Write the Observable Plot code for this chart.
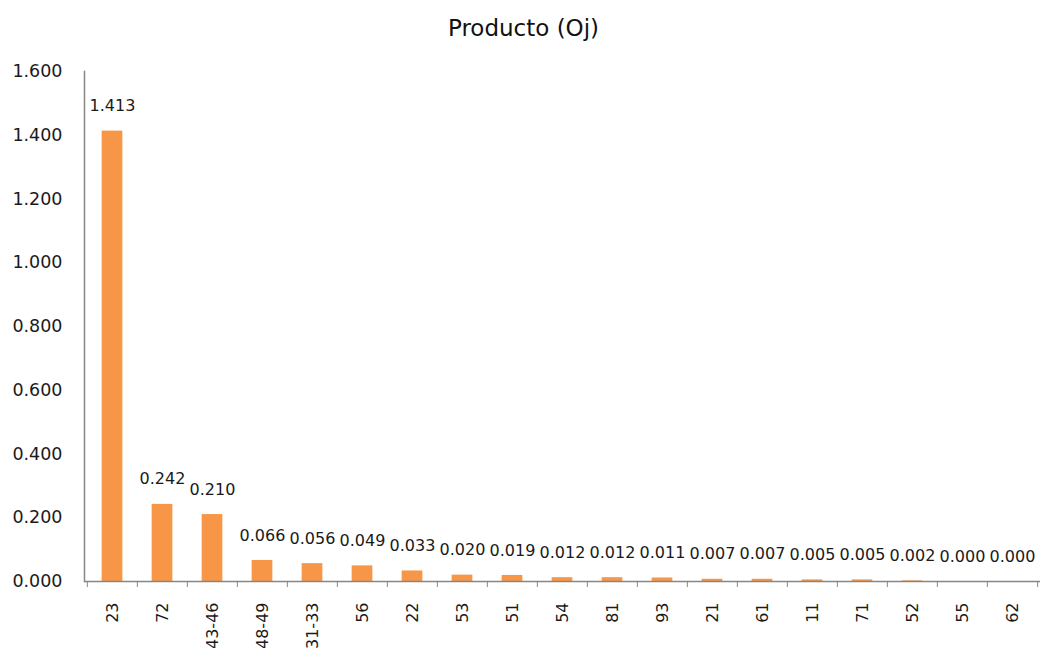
<!DOCTYPE html>
<html>
<head>
<meta charset="utf-8">
<script src="https://cdn.jsdelivr.net/npm/d3@7"></script>
<script src="https://cdn.jsdelivr.net/npm/@observablehq/plot@0.6"></script>
<style>
  html, body { margin: 0; padding: 0; background: #fff; }
  #title { height: 50px; width: 1043px; text-align: center; font-family: "DejaVu Sans", Verdana, sans-serif; font-size: 23px; line-height: 56px; color: #111; padding-left: 4px; box-sizing: border-box; }
</style>
</head>
<body>
<div id="title">Producto (Oj)</div>
<div id="chart"></div>
<script>
const categories = ["23","72","43-46","48-49","31-33","56","22","53","51","54","81","93","21","61","11","71","52","55","62"];
const values = [1.413,0.242,0.210,0.066,0.056,0.049,0.033,0.020,0.019,0.012,0.012,0.011,0.007,0.007,0.005,0.005,0.002,0.000,0.000];
const yTicks = [0,0.2,0.4,0.6,0.8,1.0,1.2,1.4,1.6];

const data = categories.map((c, i) => ({cat: c, value: values[i]}));

const W = 1043, H = 598, ML = 84, MR = 3, MT = 21, MB = 67;
const band = (W - ML - MR) / categories.length;
const halfBand = band / 2;
const barInset = (band - 21) / 2;
const fmt = d3.format(".3f");
const axisColor = "#868686";
const textColor = "#1a1a1a";

const chart = Plot.plot({
  width: W,
  height: H,
  marginLeft: ML,
  marginRight: MR,
  marginTop: MT,
  marginBottom: MB,
  style: {fontFamily: "'DejaVu Sans', Verdana, sans-serif", color: textColor, background: "#fff"},
  x: {domain: categories, padding: 0, label: null},
  y: {domain: [0, 1.6], label: null},
  marks: [
    Plot.barY(data, {x: "cat", y: "value", fill: "#F79646", insetLeft: barInset, insetRight: barInset}),
    Plot.text(data, {x: "cat", y: "value", text: d => fmt(d.value), dy: -25, fontSize: 16, fill: textColor}),
    Plot.axisY({ticks: yTicks, tickFormat: fmt, tickSize: 0, tickPadding: 22, fontSize: 17.5, fill: textColor, label: null}),
    Plot.axisX({tickSize: 0, tickPadding: 21, tickRotate: -90, fontSize: 16, fill: textColor, label: null}),
    Plot.axisX({tickSize: 6, tickFormat: () => "", dx: -halfBand, stroke: axisColor, label: null}),
    Plot.axisX({ticks: [categories[categories.length - 1]], tickSize: 6, tickFormat: () => "", dx: halfBand, stroke: axisColor, label: null}),
    Plot.ruleY([0], {stroke: axisColor, strokeWidth: 1.5}),
    Plot.frame({anchor: "left", stroke: axisColor, strokeWidth: 1.5})
  ]
});
document.getElementById("chart").appendChild(chart);
</script>
</body>
</html>
